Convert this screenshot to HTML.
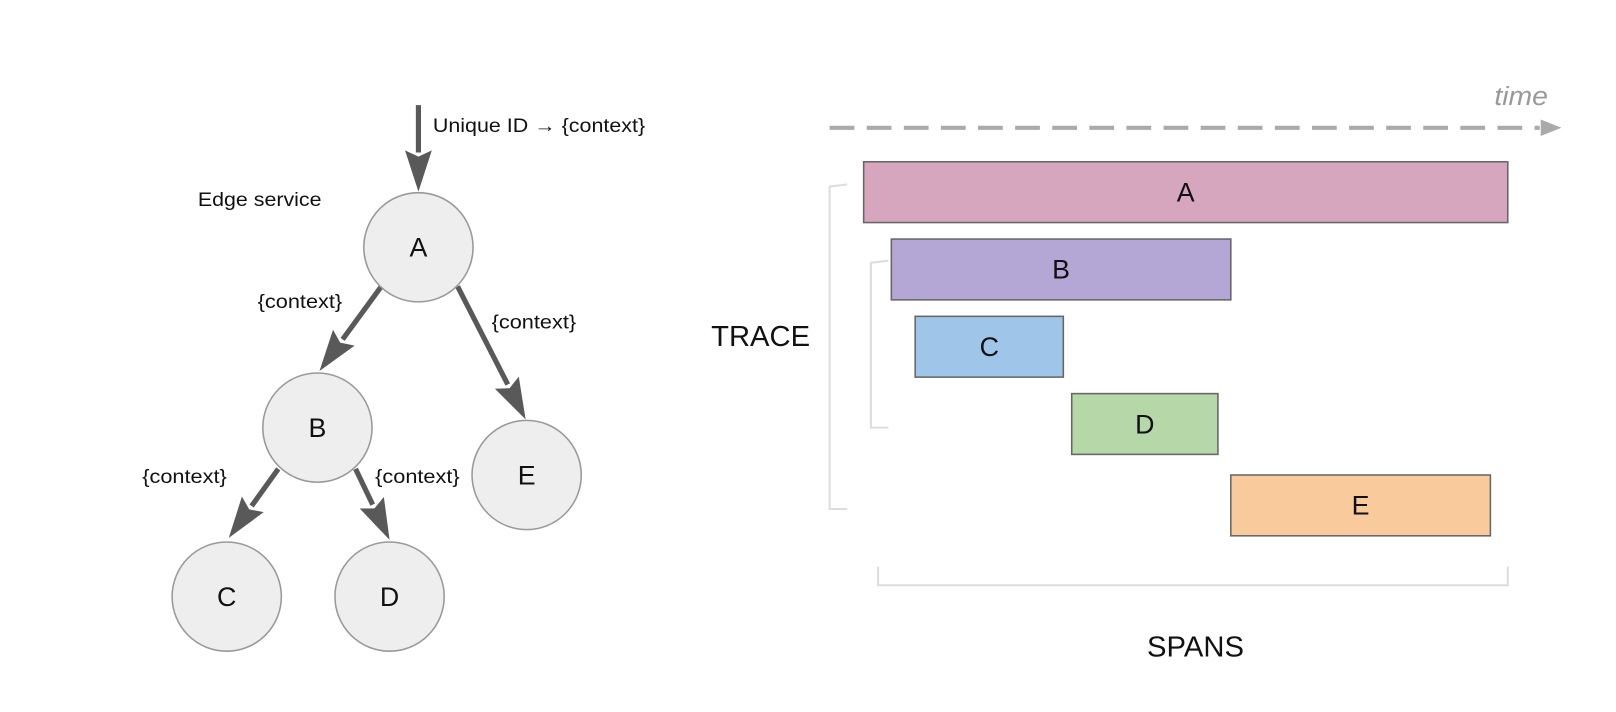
<!DOCTYPE html>
<html><head><meta charset="utf-8"><style>
html,body{margin:0;padding:0;background:#fff;overflow:hidden}
svg{display:block;font-family:"Liberation Sans",Arial,sans-serif}
</style></head><body>
<svg width="1616" height="712" viewBox="0 0 1568 691" preserveAspectRatio="none">
<g id="tree"></g>
<g id="spans"></g>
<line x1="805" y1="124" x2="1494" y2="124" stroke="#aaa" stroke-width="4" stroke-dasharray="24,12"/>
<path d="M1495,116 L1515,124 L1495,132 z" fill="#aaa"/>
<text x="1502" y="102" text-anchor="end" font-style="italic" font-size="25" fill="#999" textLength="52" lengthAdjust="spacingAndGlyphs">time</text>
<path d="M822,179 L805,181 L805,494 L822,494" fill="none" stroke="#ddd" stroke-width="2"/>
<path d="M862,253 L845,255 L845,415 L862,415" fill="none" stroke="#ddd" stroke-width="2"/>
<path d="M852,550 L852,568 L1463,568 L1463,550" fill="none" stroke="#ddd" stroke-width="2"/>
<text x="738" y="336" text-anchor="middle" font-size="28" fill="#111" textLength="96" lengthAdjust="spacingAndGlyphs">TRACE</text>
<text x="1160" y="637" text-anchor="middle" font-size="28" fill="#111" textLength="94" lengthAdjust="spacingAndGlyphs">SPANS</text>
<text x="420" y="128" font-size="19" fill="#111" textLength="206" lengthAdjust="spacingAndGlyphs">Unique ID → {context}</text>
<text x="192" y="200" font-size="19" fill="#111" textLength="120" lengthAdjust="spacingAndGlyphs">Edge service</text>
</svg>
<script>
const spanNames=['A','B','C','D','E'];
const spanStart=[0,4.3,8.0,32.3,57.0];
const spanEnd=[100,57.0,31.0,55.0,97.3];
const spanColors=['#d5a6bd','#b4a7d6','#9fc5e8','#b6d7a8','#f9cb9c'];
const nodeNames=['A','B','E','C','D'];
const edgesFrom=['A','A','B','B'];
const edgesTo=['B','E','C','D'];
const edgeLabels=['{context}','{context}','{context}','{context}'];
const NS='http://www.w3.org/2000/svg';
function x(t){return 838+t*(1463-838)/100;}
const rowY=[157,232,307,382,461],rowH=59;
const sg=document.getElementById('spans');
spanNames.forEach((n,i)=>{
 const r=document.createElementNS(NS,'rect');
 r.setAttribute('x',x(spanStart[i]));r.setAttribute('y',rowY[i]);
 r.setAttribute('width',x(spanEnd[i])-x(spanStart[i]));r.setAttribute('height',rowH);
 r.setAttribute('fill',spanColors[i]);r.setAttribute('stroke','#666');r.setAttribute('stroke-width','1.5');
 
 
 sg.appendChild(r);
 const t=document.createElementNS(NS,'text');
 t.setAttribute('x',(x(spanStart[i])+x(spanEnd[i]))/2);t.setAttribute('y',rowY[i]+rowH/2+9);
 t.setAttribute('text-anchor','middle');t.setAttribute('font-size','26');t.setAttribute('fill','#111');
 t.textContent=n;
 
 
 sg.appendChild(t);
});
const pos={A:[406,240],B:[308,415],E:[511,461],C:[220,579],D:[378,579]};
const R=53;
const tg=document.getElementById('tree');
const labelPos=[[250,299],[477,319],[138,469],[364,469]];
const arrowGeom={'A-B':[370,278,310,360],'A-E':[444,278,510,407],'B-C':[270,455,222,522],'B-D':[345,455,378,524],'in-A':[406,102,406,186]};
function arrow(g,name){
 const [x1,y1,x2,y2]=g;const dx=x2-x1,dy=y2-y1,L=Math.hypot(dx,dy),ux=dx/L,uy=dy/L;
 const hl=40,hw=13,bx=x2-ux*hl,by=y2-uy*hl;
 const l=document.createElementNS(NS,'line');
 l.setAttribute('x1',x1);l.setAttribute('y1',y1);l.setAttribute('x2',bx+ux*2);l.setAttribute('y2',by+uy*2);
 l.setAttribute('stroke','#595959');l.setAttribute('stroke-width','5');
 
 
 tg.appendChild(l);
 const p=document.createElementNS(NS,'path');
 p.setAttribute('d',`M${x2},${y2} L${bx-uy*hw},${by+ux*hw} L${bx+ux*6},${by+uy*6} L${bx+uy*hw},${by-ux*hw} z`);
 p.setAttribute('fill','#595959');
 
 
 tg.appendChild(p);
}
arrow(arrowGeom['in-A'],'incoming-request-arrow');
edgesFrom.forEach((f,i)=>{
 arrow(arrowGeom[f+'-'+edgesTo[i]],'edge-'+f.toLowerCase()+'-'+edgesTo[i].toLowerCase());
 const t=document.createElementNS(NS,'text');
 t.setAttribute('x',labelPos[i][0]);t.setAttribute('y',labelPos[i][1]);
 t.setAttribute('font-size','19');t.setAttribute('fill','#111');t.setAttribute('textLength','82');t.setAttribute('lengthAdjust','spacingAndGlyphs');t.textContent=edgeLabels[i];
 
 
 tg.appendChild(t);
});
nodeNames.forEach(n=>{
 const c=document.createElementNS(NS,'circle');
 c.setAttribute('cx',pos[n][0]);c.setAttribute('cy',pos[n][1]);c.setAttribute('r',R);
 c.setAttribute('fill','#eeeeee');c.setAttribute('stroke','#999');c.setAttribute('stroke-width','1.5');
 
 
 tg.appendChild(c);
 const t=document.createElementNS(NS,'text');
 t.setAttribute('x',pos[n][0]);t.setAttribute('y',pos[n][1]+9);t.setAttribute('text-anchor','middle');
 t.setAttribute('font-size','26');t.setAttribute('fill','#111');t.textContent=n;
 
 
 tg.appendChild(t);
});
</script>
</body></html>
